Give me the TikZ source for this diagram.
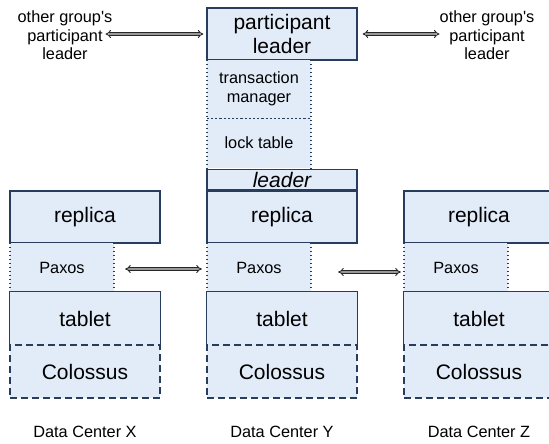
\documentclass[tikz,border=0pt]{standalone}
\usepackage{fontspec}
\setmainfont{Liberation Sans}
\usetikzlibrary{arrows.meta}
\definecolor{boxfill}{RGB}{226,235,248}
\definecolor{boxline}{RGB}{40,60,94}
\newcommand{\bigsz}{\fontsize{21}{24}\selectfont}
\newcommand{\smallsz}{\fontsize{16.3}{18.5}\selectfont}
\begin{document}
\begin{tikzpicture}[x=1pt,y=-1pt,
		box/.style={draw=boxline,fill=boxfill,line width=1.3pt,minimum width=150pt,minimum height=52pt,inner sep=0pt,font=\bigsz,align=center},
		half/.style={fill=boxfill,minimum width=104pt,inner sep=0pt,font=\smallsz,align=center},
		side/.style={draw=boxline,line width=1.5pt,dash pattern=on 1.4pt off 2.6pt},
		link/.style={draw=black!85,line width=0.9pt,double=black!40,double distance=1.8pt,{Implies}-{Implies}},
		lbl/.style={font=\smallsz,align=center,inner sep=0pt}]
	\useasboundingbox (0,0) rectangle (549,444);
	\foreach \x/\n in {85/X,282/Y,479/Z}{
		\node[box] (rep\n) at (\x,217) {replica};
		\node[half,minimum height=49pt] (pax\n) at (\x-23,267.5) {Paxos};
		\draw[side] (pax\n.north west) -- (pax\n.south west) (pax\n.north east) -- (pax\n.south east);
		\node[box,draw=none,minimum height=53pt] (tab\n) at (\x,318.5) {tablet};
		\draw[boxline,line width=1.3pt] (tab\n.south west) -- (tab\n.north west) -- (tab\n.north east) -- (tab\n.south east);
		\node[box,minimum height=53pt,dash pattern=on 7pt off 4pt] (col\n) at (\x,371.5) {Colossus};
		\node[lbl] (dc\n) at (\x,432) {Data Center \n};
	}
	\node[box] (pl) at (282,34) {participant\\leader};
	\node[half,minimum height=58pt] (tm) at (259,89) {transaction\\manager};
	\node[half,minimum height=50pt] (lt) at (259,143) {lock table};
	\draw[side] (tm.north west) -- (lt.south west) (tm.north east) -- (lt.south east);
	\draw[boxline,line width=1.3pt,dash pattern=on 2.2pt off 2pt] (tm.south west) -- (tm.south east);
	\node[box,minimum height=20pt,font=\bigsz\itshape] (ld) at (282,179.5) {leader};
	\node[lbl] (og1) at (65,35.5) {other group\textquotesingle s\\participant\\leader};
	\node[lbl] (og2) at (487,35.5) {other group\textquotesingle s\\participant\\leader};
	\draw[link,shorten <=-7pt,shorten >=3pt] (og1.east |- pl.west) -- (pl.west);
	\draw[link,shorten <=5pt] (pl.east) -- (og2.west |- pl.east);
	\draw[link,shorten <=11pt,shorten >=5pt] ([yshift=-1.5pt]paxX.east) -- ([yshift=-1.5pt]paxY.west);
	\draw[link,shorten <=27pt,shorten >=3pt] ([yshift=-4.5pt]paxY.east) -- ([yshift=-4.5pt]paxZ.west);
\end{tikzpicture}
\end{document}
